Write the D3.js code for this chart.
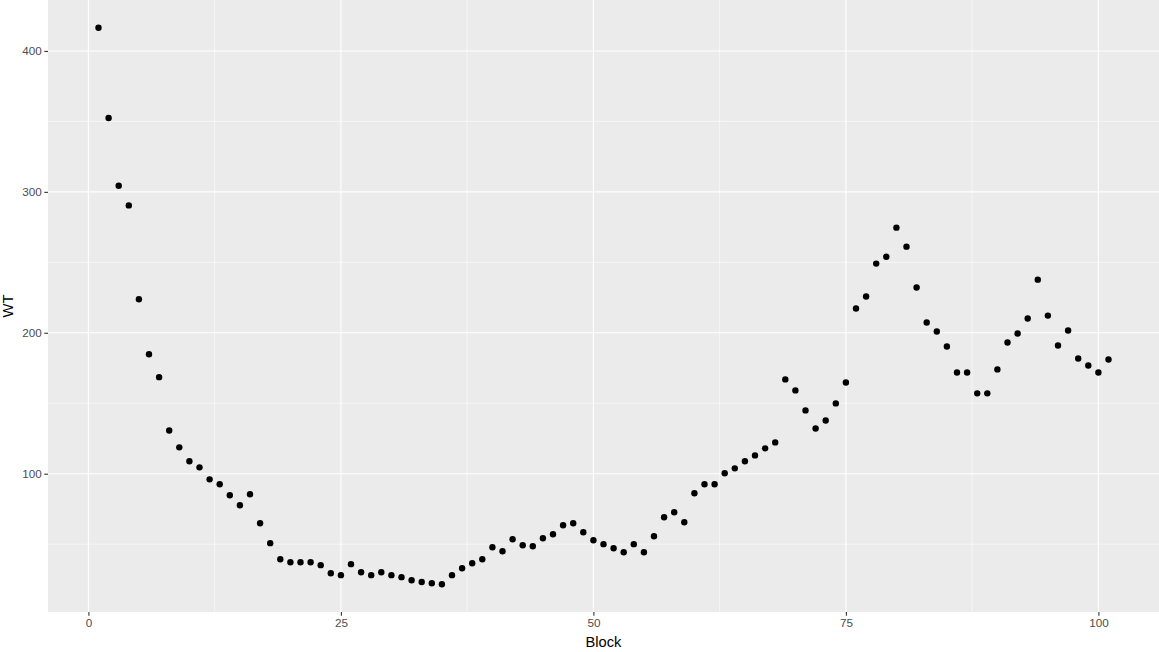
<!DOCTYPE html>
<html>
<head>
<meta charset="utf-8">
<script src="https://cdn.jsdelivr.net/npm/d3@7"></script>
<style>
  html, body { margin: 0; padding: 0; background: #fff; }
  svg { display: block; font-family: Arial, "Liberation Sans", sans-serif; }
</style>
</head>
<body>
<svg id="chart" width="1159" height="652"></svg>
<script>
// Data
const blocks = d3.range(1, 102);
const wt = [
  416.4, 352.4, 304.3, 290.4, 223.8, 184.8, 168.5, 130.7, 118.7, 108.8,
  104.5, 96.0, 92.5, 84.7, 77.6, 85.4, 64.8, 50.7, 39.3, 37.2,
  37.2, 37.2, 35.1, 29.4, 28.0, 35.8, 30.1, 28.0, 30.1, 28.0,
  26.6, 24.4, 23.2, 22.3, 21.6, 28.0, 32.9, 36.5, 39.3, 47.8,
  45.0, 53.5, 49.2, 48.5, 54.2, 57.0, 63.4, 64.8, 58.5, 52.8,
  50.0, 47.1, 44.3, 50.0, 44.3, 55.6, 69.1, 72.6, 65.5, 86.1,
  92.5, 92.5, 100.3, 103.8, 108.8, 113.0, 118.0, 122.2, 166.9, 159.1,
  144.9, 132.1, 137.8, 149.9, 164.7, 217.2, 225.7, 249.1, 254.0, 274.6,
  261.1, 232.1, 207.3, 200.9, 190.3, 171.8, 171.8, 157.0, 157.0, 174.0,
  193.1, 199.5, 210.1, 237.7, 212.2, 191.0, 201.6, 181.7, 176.8, 171.8,
  181.0
];
const xTicks = [0, 25, 50, 75, 100];
const xMinor = [12.5, 37.5, 62.5, 87.5];
const yTicks = [100, 200, 300, 400];
const yMinor = [50, 150, 250, 350];
const xLabel = "Block";
const yLabel = "WT";

const svg = d3.select("#chart");
const W = 1159, H = 652;
const panel = { left: 48, top: 0, right: 1159, bottom: 612 };

function expand(ext) {
  const r = ext[1] - ext[0];
  return [ext[0] - r * 0.05, ext[1] + r * 0.05];
}

const x = d3.scaleLinear().domain(expand(d3.extent(blocks))).range([panel.left, panel.right]);
const y = d3.scaleLinear().domain(expand(d3.extent(wt))).range([panel.bottom, panel.top]);

// panel background
svg.append("rect")
  .attr("x", panel.left).attr("y", panel.top)
  .attr("width", panel.right - panel.left).attr("height", panel.bottom - panel.top)
  .attr("fill", "#EBEBEB");

const grid = svg.append("g");
// minor grid
grid.selectAll("line.xminor").data(xMinor).join("line")
  .attr("x1", d => x(d)).attr("x2", d => x(d))
  .attr("y1", panel.top).attr("y2", panel.bottom)
  .attr("stroke", "#fff").attr("stroke-width", 0.55);
grid.selectAll("line.yminor").data(yMinor).join("line")
  .attr("y1", d => y(d)).attr("y2", d => y(d))
  .attr("x1", panel.left).attr("x2", panel.right)
  .attr("stroke", "#fff").attr("stroke-width", 0.55);
// major grid
grid.selectAll("line.xmajor").data(xTicks).join("line")
  .attr("x1", d => x(d)).attr("x2", d => x(d))
  .attr("y1", panel.top).attr("y2", panel.bottom)
  .attr("stroke", "#fff").attr("stroke-width", 1.1);
grid.selectAll("line.ymajor").data(yTicks).join("line")
  .attr("y1", d => y(d)).attr("y2", d => y(d))
  .attr("x1", panel.left).attr("x2", panel.right)
  .attr("stroke", "#fff").attr("stroke-width", 1.1);

// axes
const xAxis = d3.axisBottom(x).tickValues(xTicks).tickSize(3.7).tickPadding(2.5).tickFormat(d3.format("d"));
const gx = svg.append("g").attr("transform", `translate(0,${panel.bottom})`).call(xAxis);
gx.select(".domain").remove();
gx.selectAll(".tick line").attr("stroke", "#333333").attr("stroke-width", 1.1);
gx.selectAll(".tick text").attr("fill", "#4D4D4D").attr("font-size", "11.7px")
  .attr("font-family", "Arial, 'Liberation Sans', sans-serif");

const yAxis = d3.axisLeft(y).tickValues(yTicks).tickSize(3.7).tickPadding(2.5).tickFormat(d3.format("d"));
const gy = svg.append("g").attr("transform", `translate(${panel.left},0)`).call(yAxis);
gy.select(".domain").remove();
gy.selectAll(".tick line").attr("stroke", "#333333").attr("stroke-width", 1.1);
gy.selectAll(".tick text").attr("fill", "#4D4D4D").attr("font-size", "11.7px")
  .attr("font-family", "Arial, 'Liberation Sans', sans-serif");

// axis titles
svg.append("text")
  .attr("x", (panel.left + panel.right) / 2).attr("y", 647)
  .attr("text-anchor", "middle").attr("font-size", "14.7px").attr("fill", "#000")
  .text(xLabel);
svg.append("text")
  .attr("transform", `translate(12.5,${(panel.top + panel.bottom) / 2}) rotate(-90)`)
  .attr("text-anchor", "middle").attr("font-size", "14.7px").attr("fill", "#000")
  .text(yLabel);

// points
svg.append("g").selectAll("circle").data(blocks.map((b, i) => [b, wt[i]])).join("circle")
  .attr("cx", d => x(d[0])).attr("cy", d => y(d[1]))
  .attr("r", 3.2).attr("fill", "#000");
</script>
</body>
</html>
